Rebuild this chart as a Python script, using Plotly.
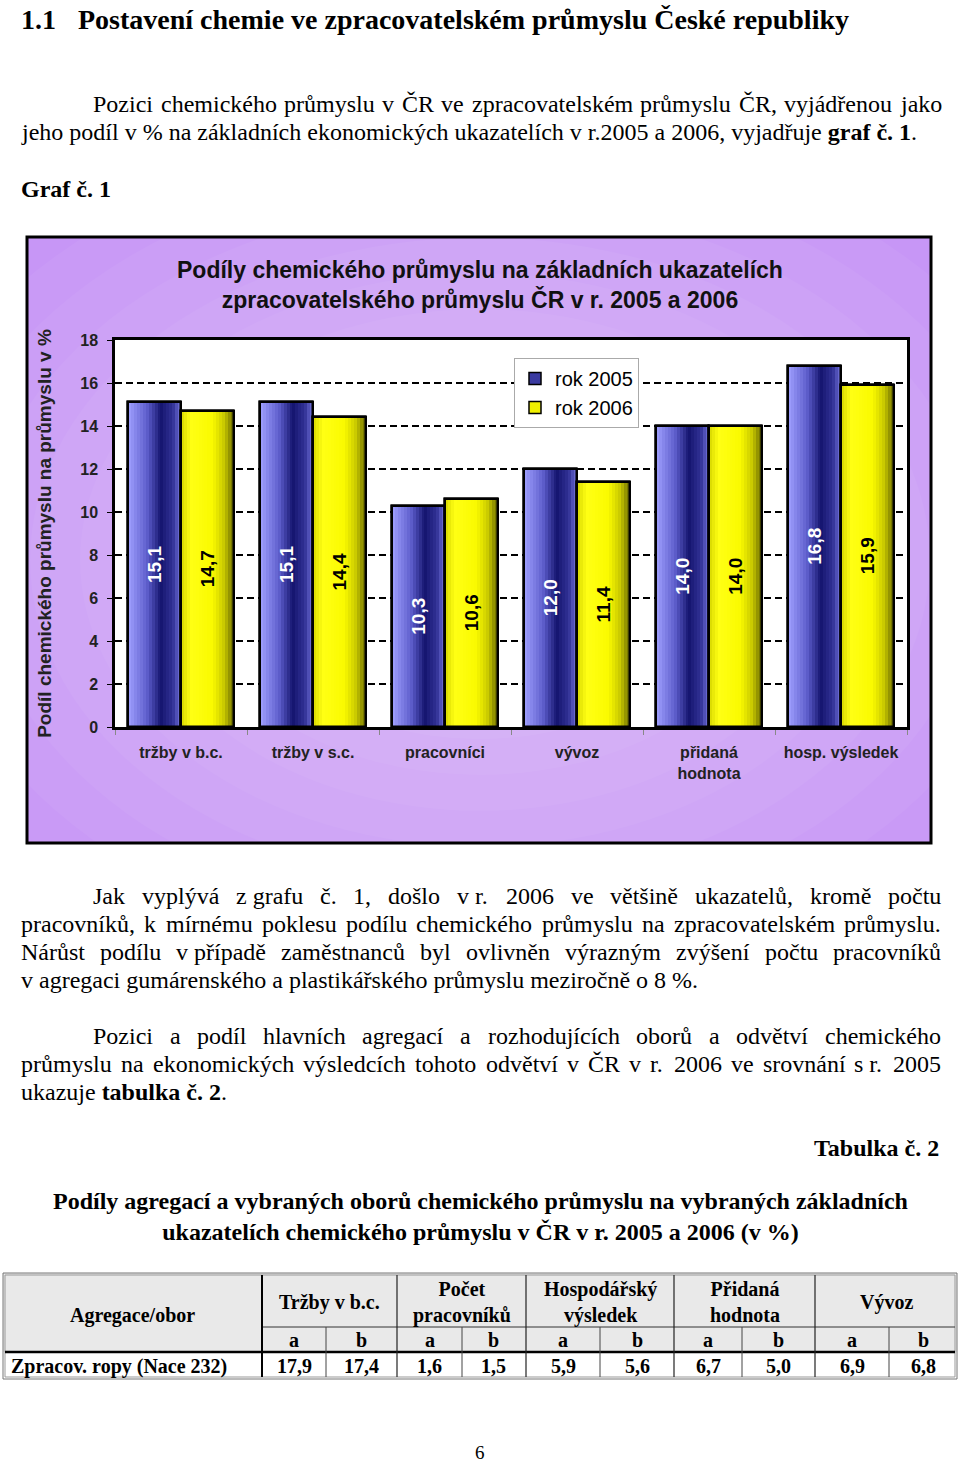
import plotly.graph_objects as go
import unicodedata

W, H = 960, 1463


def px(x):
    return x / W


def py(y):
    return 1 - y / H


# ---------------- data ----------------
categories = ["tržby v b.c.", "tržby v s.c.", "pracovníci", "vývoz",
              "přidaná<br>hodnota", "hosp. výsledek"]
rok_2005 = [15.1, 15.1, 10.3, 12.0, 14.0, 16.8]
rok_2006 = [14.7, 14.4, 10.6, 11.4, 14.0, 15.9]
series_names = ["rok 2005", "rok 2006"]
y_ticks = [0, 2, 4, 6, 8, 10, 12, 14, 16, 18]

chart_title = "Podíly chemického průmyslu na základních ukazatelích<br>zpracovatelského průmyslu ČR v r. 2005 a 2006"
y_title = "Podíl chemického průmyslu na průmyslu v %"

table_groups = ["Tržby v b.c.", "Počet<br>pracovníků", "Hospodářský<br>výsledek",
                "Přidaná<br>hodnota", "Vývoz"]
table_sub = ["a", "b"]
table_row_label = "Zpracov. ropy (Nace 232)"
table_a = [17.9, 1.6, 5.9, 6.7, 6.9]
table_b = [17.4, 1.5, 5.6, 5.0, 6.8]


def fmt(v):
    return f"{v:.1f}".replace(".", ",")


SANS = "Liberation Sans, Arial, sans-serif"
SERIF = "Liberation Serif, Times New Roman, serif"

# Times metrics (regular), used to justify body lines
TW = {' ': 250, '\u00a0': 250, '!': 333, '%': 833, '(': 333, ')': 333, ',': 250, '-': 333, '.': 250,
      '/': 278, ':': 278,
      'A': 722, 'B': 667, 'C': 667, 'D': 722, 'E': 611, 'F': 556, 'G': 722, 'H': 722, 'I': 333,
      'J': 389, 'K': 722, 'L': 611, 'M': 889, 'N': 722, 'O': 722, 'P': 556, 'Q': 722, 'R': 667,
      'S': 556, 'T': 611, 'U': 722, 'V': 722, 'W': 944, 'X': 722, 'Y': 722, 'Z': 611,
      'a': 444, 'b': 500, 'c': 444, 'd': 500, 'e': 444, 'f': 333, 'g': 500, 'h': 500, 'i': 278,
      'j': 278, 'k': 500, 'l': 278, 'm': 778, 'n': 500, 'o': 500, 'p': 500, 'q': 500, 'r': 333,
      's': 389, 't': 278, 'u': 500, 'v': 500, 'w': 722, 'x': 500, 'y': 500, 'z': 444}


def text_w(s, fs):
    tot = 0
    for ch in s:
        if ch.isdigit():
            tot += 500
            continue
        base = unicodedata.normalize("NFD", ch)[0]
        tot += TW.get(base, 500)
    return tot / 1000 * fs


BODY_FS = 24
annotations = []
shapes = []


def ann(x, y, s, size, family=SERIF, xanchor="left", color="black", yanchor="middle", **kw):
    d = dict(x=px(x), y=py(y), xref="paper", yref="paper", text=s, showarrow=False,
             xanchor=xanchor, yanchor=yanchor, font=dict(size=size, family=family, color=color),
             borderpad=0)
    d.update(kw)
    annotations.append(d)


def justified(x0, x1, y, line):
    words = line.split(" ")
    widths = [text_w(w, BODY_FS) for w in words]
    gap = (x1 - x0 - sum(widths)) / max(len(words) - 1, 1)
    x = x0
    for w, ww in zip(words, widths):
        ann(x, y, w, BODY_FS)
        x += ww + gap


# ---------------- page text ----------------
ann(20, 19, "<b>1.1</b>", 28)
ann(77, 19, "<b>Postavení chemie ve zpracovatelském průmyslu České republiky</b>", 28)

justified(92, 940, 104, "Pozici chemického průmyslu v ČR ve zpracovatelském průmyslu ČR, vyjádřenou jako")
ann(20, 132, "jeho podíl v % na základních ekonomických ukazatelích v r.2005 a 2006, vyjadřuje <b>graf č. 1</b>.", BODY_FS)
ann(20, 189, "<b>Graf č. 1</b>", BODY_FS)

justified(92, 940, 896, "Jak vyplývá z\u00a0grafu č. 1, došlo v\u00a0r. 2006 ve většině ukazatelů, kromě počtu")
justified(20, 940, 924, "pracovníků, k mírnému poklesu podílu chemického průmyslu na zpracovatelském průmyslu.")
justified(20, 940, 952, "Nárůst podílu v\u00a0případě zaměstnanců byl ovlivněn výrazným zvýšení počtu pracovníků")
ann(20, 980, "v agregaci gumárenského a plastikářského průmyslu meziročně o 8 %.", BODY_FS)

justified(92, 940, 1036, "Pozici a podíl hlavních agregací a rozhodujících oborů a odvětví chemického")
justified(20, 940, 1064, "průmyslu na ekonomických výsledcích tohoto odvětví v ČR v r. 2006 ve srovnání s\u00a0r. 2005")
ann(20, 1092, "ukazuje <b>tabulka č. 2</b>.", BODY_FS)

ann(940, 1148, "<b>Tabulka č. 2</b>", 24, xanchor="right")
ann(480, 1216, "<b>Podíly agregací a vybraných oborů chemického průmyslu na vybraných základních<br>"
               "ukazatelích chemického průmyslu v ČR v r. 2005 a 2006 (v %)</b>", 24, xanchor="center")

ann(480, 1452, "6", 19, xanchor="center")

# ---------------- chart frame (purple gradient) ----------------
BX0, BY0, BX1, BY1 = 27, 237, 931, 843
shapes.append(dict(type="rect", xref="paper", yref="paper", x0=px(BX0), y0=py(BY0), x1=px(BX1), y1=py(BY1),
                   fillcolor="#C796F6", line=dict(width=0), layer="below"))
CX, CY = 480, 560
for k in range(12):
    f = 1 - k / 12
    rx, ry = 600 * f, 430 * f
    shapes.append(dict(type="circle", xref="paper", yref="paper",
                       x0=px(CX - rx), x1=px(CX + rx), y0=py(CY - ry), y1=py(CY + ry),
                       fillcolor="rgba(255,255,255,0.045)", line=dict(width=0), layer="below"))
# mask overflow of ellipses outside frame with white
shapes.append(dict(type="rect", xref="paper", yref="paper", x0=0, x1=px(BX0), y0=0, y1=1,
                   fillcolor="white", line=dict(width=0), layer="below"))
shapes.append(dict(type="rect", xref="paper", yref="paper", x0=px(BX1), x1=1, y0=0, y1=1,
                   fillcolor="white", line=dict(width=0), layer="below"))
shapes.append(dict(type="rect", xref="paper", yref="paper", x0=0, x1=1, y0=py(BY0), y1=1,
                   fillcolor="white", line=dict(width=0), layer="below"))
shapes.append(dict(type="rect", xref="paper", yref="paper", x0=0, x1=1, y0=0, y1=py(BY1),
                   fillcolor="white", line=dict(width=0), layer="below"))
# plot area white
PX0, PX1, PY0, PY1 = 115, 907, 340, 727
shapes.append(dict(type="rect", xref="paper", yref="paper", x0=px(PX0), x1=px(PX1), y0=py(PY1), y1=py(PY0),
                   fillcolor="white", line=dict(width=0), layer="below"))
# frame border
shapes.append(dict(type="rect", xref="paper", yref="paper", x0=px(BX0), y0=py(BY0), x1=px(BX1), y1=py(BY1),
                   fillcolor="rgba(0,0,0,0)", line=dict(width=3, color="black"), layer="above"))

ann(480, 285, "<b>" + chart_title + "</b>", 23, family=SANS, xanchor="center", color="#111")

# ---------------- bars ----------------
BW = 0.4
blue_stops = [(0.0, (160, 160, 255)), (0.35, (95, 95, 205)), (0.62, (20, 20, 110)), (0.85, (50, 50, 150)),
              (1.0, (115, 115, 220))]
yellow_stops = [(0.0, (215, 215, 0)), (0.18, (255, 255, 20)), (0.6, (250, 250, 0)), (0.82, (200, 200, 0)),
                (1.0, (105, 105, 0))]


def lerp(stops, t):
    for (t0, c0), (t1, c1) in zip(stops, stops[1:]):
        if t0 <= t <= t1:
            f = (t - t0) / (t1 - t0)
            return "rgb(%d,%d,%d)" % tuple(round(a + (b - a) * f) for a, b in zip(c0, c1))
    return "rgb(%d,%d,%d)" % stops[-1][1]


fig = go.Figure()
series = [(series_names[0], rok_2005, -BW, blue_stops, "#3A3AA0", "white"),
          (series_names[1], rok_2006, 0.0, yellow_stops, "#F0F000", "black")]
N = 18
for name, vals, off, stops, mid, tcol in series:
    fig.add_trace(go.Bar(x=categories, y=vals, name=name, offset=off, width=BW,
                         marker=dict(color=mid, line=dict(color="black", width=1.5)),
                         showlegend=True, hoverinfo="skip"))
    for k in range(N):
        sw = BW / N
        w = min(sw * 1.4, BW - k * sw)
        fig.add_trace(go.Bar(x=categories, y=vals, offset=off + k * sw, width=w,
                             marker=dict(color=lerp(stops, (k + 0.5) / N), line=dict(width=0)),
                             showlegend=False, hoverinfo="skip"))
for name, vals, off, stops, mid, tcol in series:
    fig.add_trace(go.Bar(x=categories, y=vals, offset=off, width=BW,
                         marker=dict(color="rgba(0,0,0,0)", line=dict(color="black", width=2.5)),
                         text=[fmt(v) for v in vals], textposition="inside", textangle=-90,
                         insidetextanchor="middle", constraintext="none",
                         textfont=dict(size=19, family=SANS, color=tcol, weight="bold"),
                         showlegend=False, hoverinfo="skip"))

# ---------------- table ----------------
TX0, TX1, TY0, TY1 = 3, 957, 1273, 1379
R1, R2 = 1327, 1352
col_bounds = [262, 326, 397, 462, 526, 600, 674, 742, 815, 889, 957]
shapes.append(dict(type="rect", xref="paper", yref="paper", x0=px(TX0), x1=px(TX1), y0=py(R2), y1=py(TY0),
                   fillcolor="#E9E9E9", line=dict(width=0), layer="below"))


def hline(x0, x1, y, w=1, c="black"):
    shapes.append(dict(type="line", xref="paper", yref="paper", x0=px(x0), x1=px(x1), y0=py(y), y1=py(y),
                       line=dict(width=w, color=c)))


def vline(x, y0, y1, w=1, c="black"):
    shapes.append(dict(type="line", xref="paper", yref="paper", x0=px(x), x1=px(x), y0=py(y0), y1=py(y1),
                       line=dict(width=w, color=c)))


shapes.append(dict(type="rect", xref="paper", yref="paper", x0=px(TX0), x1=px(TX1), y0=py(TY1), y1=py(TY0),
                   fillcolor="rgba(0,0,0,0)", line=dict(width=1, color="#777")))
shapes.append(dict(type="rect", xref="paper", yref="paper", x0=px(TX0 + 2), x1=px(TX1 - 2), y0=py(TY1 - 2),
                   y1=py(TY0 + 2), fillcolor="rgba(0,0,0,0)", line=dict(width=1, color="#999")))
hline(col_bounds[0], TX1 - 2, R1, 1, "#333")
hline(TX0 + 2, TX1 - 2, R2, 2.5)
for i, xb in enumerate(col_bounds[:-1]):
    if i % 2 == 0:
        vline(xb, TY0 + 2, TY1 - 2, 2 if i == 0 else 1.2, "black" if i == 0 else "#222")
    else:
        vline(xb, R1, TY1 - 2, 1, "#444")

TFS = 20
ann(132, 1315, "<b>Agregace/obor</b>", TFS, xanchor="center")
for g, name in enumerate(table_groups):
    cx = (col_bounds[2 * g] + col_bounds[2 * g + 2]) / 2
    ann(cx, 1302, "<b>" + name + "</b>", TFS, xanchor="center")
    for j, sub in enumerate(table_sub):
        sx = (col_bounds[2 * g + j] + col_bounds[2 * g + j + 1]) / 2
        ann(sx, 1340, "<b>" + sub + "</b>", TFS, xanchor="center")
    ann((col_bounds[2 * g] + col_bounds[2 * g + 1]) / 2, 1366, "<b>" + fmt(table_a[g]) + "</b>", TFS,
        xanchor="center")
    ann((col_bounds[2 * g + 1] + col_bounds[2 * g + 2]) / 2, 1366, "<b>" + fmt(table_b[g]) + "</b>", TFS,
        xanchor="center")
ann(10, 1366, "<b>" + table_row_label + "</b>", TFS)

# ---------------- layout ----------------
fig.update_layout(
    width=W, height=H, margin=dict(l=0, r=0, t=0, b=0),
    paper_bgcolor="white", plot_bgcolor="rgba(0,0,0,0)",
    barmode="overlay", bargap=0,
    showlegend=True,
    legend=dict(x=px(514), y=py(358), xanchor="left", yanchor="top", bgcolor="white",
                bordercolor="#AAA", borderwidth=1, font=dict(size=20, family=SANS, color="black"),
                itemwidth=30, tracegroupgap=0),
    xaxis=dict(domain=[px(PX0), px(PX1)], range=[-0.5, 5.5], type="category",
               showline=True, mirror=True, linecolor="black", linewidth=2.5,
               ticks="outside", tickson="boundaries", ticklen=5, tickcolor="#888",
               tickfont=dict(size=16, family=SANS, color="#222", weight="bold"),
               ticklabelstandoff=9, showgrid=False, automargin=False, fixedrange=True),
    yaxis=dict(domain=[py(PY1), py(PY0)], range=[0, 18], tickvals=y_ticks,
               showline=True, mirror=True, linecolor="black", linewidth=2.5,
               ticks="outside", ticklen=5, tickcolor="black",
               tickfont=dict(size=16, family=SANS, color="#222", weight="bold"),
               ticklabelstandoff=6,
               showgrid=True, gridcolor="black", gridwidth=2, griddash="7px,4px", zeroline=False,
               title=dict(text=y_title, font=dict(size=19, family=SANS, color="#222", weight="bold"),
                          standoff=24),
               automargin=False, fixedrange=True),
    shapes=shapes, annotations=annotations,
)

fig.write_html("out.html")
